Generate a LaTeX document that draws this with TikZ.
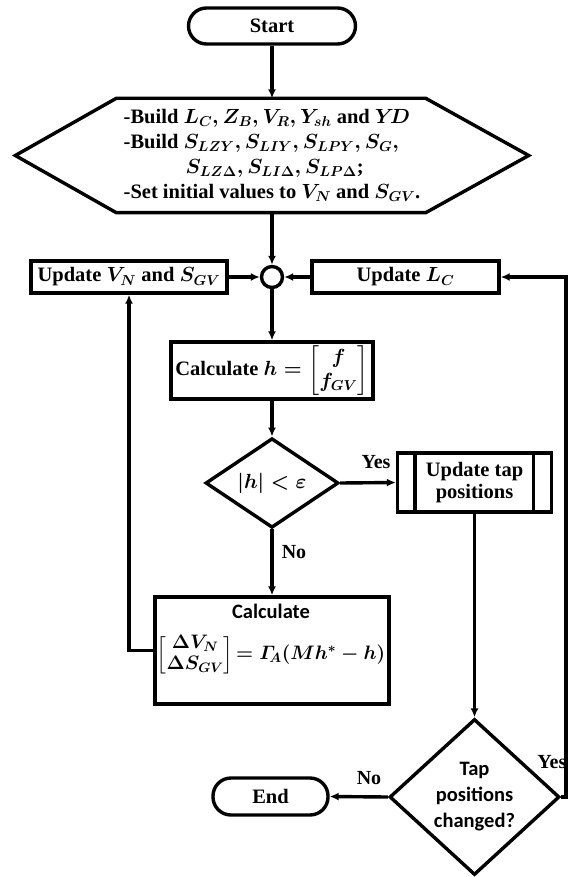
\RequirePackage{fix-cm}
\documentclass[tikz,border=0pt]{standalone}
\usepackage{amsmath}
\usepackage{fontspec}
\setmainfont{Liberation Serif}
\newfontfamily\calib{Carlito}
\usetikzlibrary{shapes.geometric,arrows.meta,calc}
\begin{document}
\begin{tikzpicture}[x=1pt,y=-1pt,line width=3.4pt,
  every node/.style={font=\fontsize{20.5}{24}\selectfont\bfseries\boldmath},
  box/.style={draw,rectangle,inner sep=0pt},
  term/.style={draw,rectangle,rounded corners=18pt,inner sep=0pt},
  dec/.style={draw,diamond,inner sep=0pt},
  arr/.style={-{Latex[length=9pt,width=8pt]}},
  lbl/.style={font=\fontsize{20}{24}\selectfont\bfseries}]
\useasboundingbox (0,0) rectangle (568,877);
% nodes
\node[term,minimum width=167,minimum height=36] (start) at (272,26) {Start};
\node[inner sep=0pt,minimum width=510,minimum height=111,align=left,
      font=\fontsize{20.5}{25}\selectfont\bfseries\boldmath] (hex) at (272,155.5)
  {-Build $L_C, Z_B, V_R, Y_{sh}$ and $Y\!D$\\
   -Build $S_{LZY}, S_{LIY}, S_{LPY}, S_G,$\\
   \hspace*{62pt}$S_{LZ\Delta}, S_{LI\Delta}, S_{LP\Delta}$;\\
   -Set initial values to $V_N$ and $S_{GV}$.};
\draw (hex.west) -- ($(hex.north west)+(101,0)$) -- ($(hex.north east)+(-103,0)$)
  -- (hex.east) -- ($(hex.south east)+(-103,0)$) -- ($(hex.south west)+(101,0)$) -- cycle;
\node[draw,circle,minimum size=21,inner sep=0pt] (jn) at (272,277) {};
\node[box,minimum width=196,minimum height=32] (upV) at (129,277) {Update $V_N$ and $S_{GV}$};
\node[box,minimum width=187,minimum height=32] (upL) at (405.5,277) {Update $L_C$};
\node[box,minimum width=202,minimum height=57] (calch) at (272,370.5)
  {Calculate $h = \begin{bmatrix} f\\ f_{GV}\end{bmatrix}$};
\node[dec,minimum width=133,minimum height=52] (dia1) at (272,483) {$|h| < \varepsilon$};
\node[box,minimum width=154,minimum height=59,align=center,
      font=\fontsize{20.5}{22}\selectfont\bfseries] (tap) at (474.5,482.5) {Update tap\\positions};
\draw ($(tap.north west)+(19,0)$) -- ($(tap.south west)+(19,0)$);
\draw ($(tap.north east)+(-20,0)$) -- ($(tap.south east)+(-20,0)$);
\node[box,minimum width=234,minimum height=107] (calc2) at (272,650.5) {};
\node[inner sep=0pt,font=\fontsize{20.5}{24}\selectfont\calib\bfseries] (calc2a) at (271,611) {Calculate};
\node[inner sep=0pt,font=\fontsize{19.5}{22}\selectfont\bfseries\boldmath] (calc2b) at (271,655)
  {$\renewcommand\arraystretch{0.92}\begin{bmatrix}\Delta V_N\\ \Delta S_{GV}\end{bmatrix}\! = \varGamma_{\!A}(M h^{*} - h)$};
\node[dec,minimum width=170,minimum height=156,align=center,
      font=\fontsize{20.5}{26}\selectfont\calib\bfseries] (dia2) at (474.5,797)
  {Tap\\positions\\changed?};
\node[term,minimum width=115,minimum height=37] (end) at (270.5,796.5) {End};
% connectors
\draw[arr] (start.south) -- (hex.north);
\draw[arr] (hex.south) -- (jn.north);
\draw[arr] (upV.east) -- (jn.west);
\draw[arr] (upL.west) -- (jn.east);
\draw[arr] (jn.south) -- (calch.north);
\draw[arr] (calch.south) -- (dia1.north);
\draw[arr] (dia1.east) -- (tap.west);
\draw[arr] (dia1.south) -- (calc2.north);
\draw[arr] (calc2.west) -| (upV.south);
\draw[arr] (tap.south) -- (dia2.north);
\draw[arr] (dia2.west) -- (end.east);
\coordinate (rc) at (566,797);
\draw[arr] (dia2.east) -- (rc) |- (upL.east);
% labels
\node[lbl] (y1) at (376,462) {Yes};
\node[lbl] (n1) at (294,552) {No};
\node[lbl] (n2) at (369,778) {No};
\node[lbl,anchor=east,inner sep=0pt] (y2) at (568,762) {Yes};
\end{tikzpicture}
\end{document}
